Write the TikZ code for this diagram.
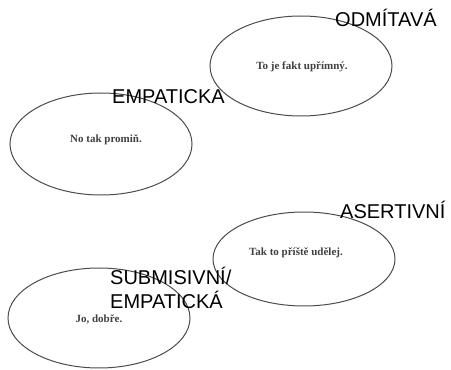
\documentclass[tikz,border=0pt]{standalone}
\usepackage{fontspec}
\setmainfont{Liberation Serif}
\newfontfamily\labelfont{Liberation Sans}
\usetikzlibrary{shapes.geometric}
\begin{document}
\begin{tikzpicture}[x=1pt,y=1pt,
  bubble/.style={draw=black!70,line width=1pt,ellipse,inner sep=0pt},
  saying/.style={font=\bfseries\fontsize{11}{13}\selectfont,text=black!75,inner sep=0pt},
  tag/.style={font=\labelfont\fontsize{20}{24}\selectfont,text=black,inner sep=0pt,anchor=base west,align=left}]
\fill[white] (0,0) rectangle (451,370);
\useasboundingbox (0,0) rectangle (451,370);
% ellipses (y = 370 - pixel row)
\node[bubble,minimum width=182pt,minimum height=100pt] (e1) at (301,304) {};
\node[bubble,minimum width=182pt,minimum height=102pt] (e2) at (101,226) {};
\node[bubble,minimum width=182pt,minimum height=94pt] (e3) at (304,111) {};
\node[bubble,minimum width=182pt,minimum height=100pt] (e4) at (99,52) {};
% texts
\node[saying] (t1) at (302,303) {To je fakt upřímný.};
\node[saying] (t2) at (106,230) {No tak promiň.};
\node[saying] (t3) at (296,117) {Tak to příště udělej.};
\node[saying] (t4) at (99,51) {Jo, dobře.};
% labels
\node[tag] (l1) at (335,343) {ODMÍTAVÁ};
\node[tag] (l2) at (112,266) {EMPATICKA};
\node[tag] (l3) at (340,151) {ASERTIVNÍ};
\node[tag] (l4) at (110,85) {SUBMISIVNÍ/};
\node[tag] (l5) at (110,61) {EMPATICKÁ};
\end{tikzpicture}
\end{document}
